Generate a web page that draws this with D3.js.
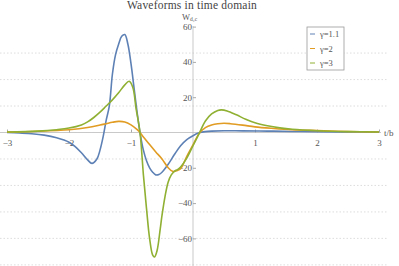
<!DOCTYPE html>
<html>
<head>
<meta charset="utf-8">
<script src="https://cdn.jsdelivr.net/npm/d3@7"></script>
<style>
  html, body { margin: 0; padding: 0; background: #fff; }
  svg { display: block; }
  .tick text { font-family: "Liberation Serif", serif; font-size: 9px; fill: #555; }
</style>
</head>
<body>
<svg id="chart" width="399" height="266"></svg>
<script>
// courbes : [t/b, W]
const waveG11 = [[-3,0],[-2.8,-0.3],[-2.6,-0.7],[-2.4,-1.5],[-2.2,-3],[-2,-5.5],[-1.9,-8],[-1.8,-11.5],[-1.7,-15.5],
  [-1.63,-17.5],[-1.55,-15],[-1.5,-10],[-1.45,-2.5],[-1.4,7],[-1.35,15],[-1.3,33],[-1.25,44],[-1.2,50],[-1.15,54.5],
  [-1.1,55.5],[-1.05,50],[-1,39],[-0.95,25],[-0.9,11],[-0.85,-1],[-0.8,-10],[-0.75,-16],[-0.7,-20],[-0.65,-22.5],
  [-0.6,-24],[-0.55,-23.8],[-0.5,-22.5],[-0.4,-18],[-0.3,-12.5],[-0.2,-7.5],[-0.1,-4],[0,-1.8],[0.1,-0.2],[0.2,0.5],
  [0.3,0.8],[0.5,1],[0.8,0.9],[1.2,0.8],[1.6,0.6],[2,0.4],[2.5,0.3],[3,0.2]];
const waveG2 = [[-3,0.2],[-2.5,0.7],[-2,1.6],[-1.7,2.8],[-1.5,4.2],[-1.4,5],[-1.3,5.8],[-1.2,6.3],[-1.1,6],[-1,4.3],
  [-0.9,1.6],[-0.855,0],[-0.8,-2.5],[-0.7,-6.8],[-0.6,-11],[-0.5,-15],[-0.4,-20],[-0.33,-22],[-0.25,-21.5],[-0.2,-20.5],
  [-0.1,-13.5],[0,-7],[0.1,-0.5],[0.2,2.8],[0.3,4.3],[0.4,5],[0.5,5.2],[0.6,5],[0.8,4.2],[1,3.2],[1.3,2.3],[1.6,1.6],
  [2,1.1],[2.5,0.6],[3,0.3]];
const waveG3 = [[-3,0.3],[-2.5,0.8],[-2.2,1.6],[-2,2.5],[-1.8,4.3],[-1.7,6],[-1.6,8.5],[-1.5,11.5],[-1.4,15],[-1.3,18.5],
  [-1.2,22.5],[-1.1,27],[-1.03,29],[-0.97,25.5],[-0.92,14],[-0.855,0],[-0.8,-24],[-0.75,-43],[-0.7,-60],[-0.65,-69.5],
  [-0.62,-70.5],[-0.58,-67],[-0.53,-55],[-0.5,-47],[-0.45,-36],[-0.4,-28],[-0.35,-24],[-0.3,-22],[-0.25,-21],[-0.2,-19.5],
  [-0.1,-14.5],[0,-7.5],[0.1,-0.5],[0.2,6.5],[0.3,10.5],[0.4,12.5],[0.46,12.8],[0.55,12.2],[0.7,10],[0.85,7.5],[1,5.5],
  [1.2,3.8],[1.4,2.6],[1.6,1.8],[2,1],[2.5,0.5],[3,0.3]];

const seriesNames = ["γ=1.1", "γ=2", "γ=3"];
const seriesColors = ["#5e81b5", "#e19c24", "#8fb032"];
const xTicks = [-3, -2, -1, 1, 2, 3];
const yTicks = [-60, -40, -20, 20, 40, 60];
const gridValues = [-75, -60, -45, -30, -15, 15, 30, 45];

const svg = d3.select("#chart");
const x = d3.scaleLinear().domain([-3, 3]).range([7, 379]);
const y = d3.scaleLinear().domain([0, 60]).range([132.5, 26.6]);
const fmt = d => (d < 0 ? "\u2212" + Math.abs(d) : d);

// grille horizontale pointillée
svg.append("g").selectAll("line")
  .data(gridValues)
  .join("line")
  .attr("x1", 0).attr("x2", 387)
  .attr("y1", d => y(d)).attr("y2", d => y(d))
  .attr("stroke", "#d4d4d4")
  .attr("stroke-width", 0.8)
  .attr("stroke-dasharray", "1.5,2");

// axes
svg.append("line")
  .attr("x1", 0).attr("x2", 381)
  .attr("y1", y(0)).attr("y2", y(0))
  .attr("stroke", "#bbb").attr("stroke-width", 0.8);
svg.append("line")
  .attr("x1", x(0)).attr("x2", x(0))
  .attr("y1", 26).attr("y2", 266)
  .attr("stroke", "#bbb").attr("stroke-width", 0.8);

const xAxis = svg.append("g")
  .attr("transform", `translate(0,${y(0)})`)
  .call(d3.axisBottom(x).tickValues(xTicks).tickSize(-3).tickPadding(7).tickFormat(fmt));
xAxis.select(".domain").remove();
xAxis.selectAll(".tick line").attr("stroke", "#aaa");

const yAxis = svg.append("g")
  .attr("transform", `translate(${x(0)},0)`)
  .call(d3.axisLeft(y).tickValues(yTicks).tickSize(-3).tickPadding(1).tickFormat(fmt));
yAxis.select(".domain").remove();
yAxis.selectAll(".tick line").attr("stroke", "#aaa");

// libellés des axes
svg.append("text")
  .attr("x", 384).attr("y", y(0) + 3)
  .attr("font-family", "Liberation Serif, serif").attr("font-size", 9).attr("fill", "#555")
  .text("t/b");
const yl = svg.append("text")
  .attr("x", 182).attr("y", 19.5)
  .attr("font-family", "Liberation Serif, serif").attr("font-size", 8.5).attr("fill", "#555");
yl.append("tspan").text("W");
yl.append("tspan").attr("font-size", 5.5).attr("dy", 1.5).text("d₂c");

// titre
svg.append("text")
  .attr("x", 192).attr("y", 9)
  .attr("text-anchor", "middle")
  .attr("font-family", "Liberation Serif, serif").attr("font-size", 11.5).attr("fill", "#444")
  .attr("letter-spacing", 0.2)
  .text("Waveforms in time domain");

// courbes
const line = d3.line()
  .x(d => x(d[0]))
  .y(d => y(d[1]))
  .curve(d3.curveCatmullRom.alpha(0.5));

svg.append("g").selectAll("path")
  .data([waveG11, waveG2, waveG3])
  .join("path")
  .attr("d", line)
  .attr("fill", "none")
  .attr("stroke", (d, i) => seriesColors[i])
  .attr("stroke-width", 1.6)
  .attr("stroke-linejoin", "round");

// légende
const legend = svg.append("g").attr("transform", "translate(307,27)");
legend.append("rect")
  .attr("width", 37).attr("height", 43)
  .attr("fill", "#fff").attr("stroke", "#999").attr("stroke-width", 0.8);
const items = legend.selectAll("g.item")
  .data(seriesNames)
  .join("g")
  .attr("class", "item")
  .attr("transform", (d, i) => `translate(0,${7 + i * 14.5})`);
items.append("line")
  .attr("x1", 3).attr("x2", 8)
  .attr("stroke", (d, i) => seriesColors[i]).attr("stroke-width", 1);
items.append("text")
  .attr("x", 13).attr("y", 3)
  .attr("font-family", "Liberation Serif, serif").attr("font-size", 8.5).attr("fill", "#555")
  .text(d => d);
</script>
</body>
</html>
